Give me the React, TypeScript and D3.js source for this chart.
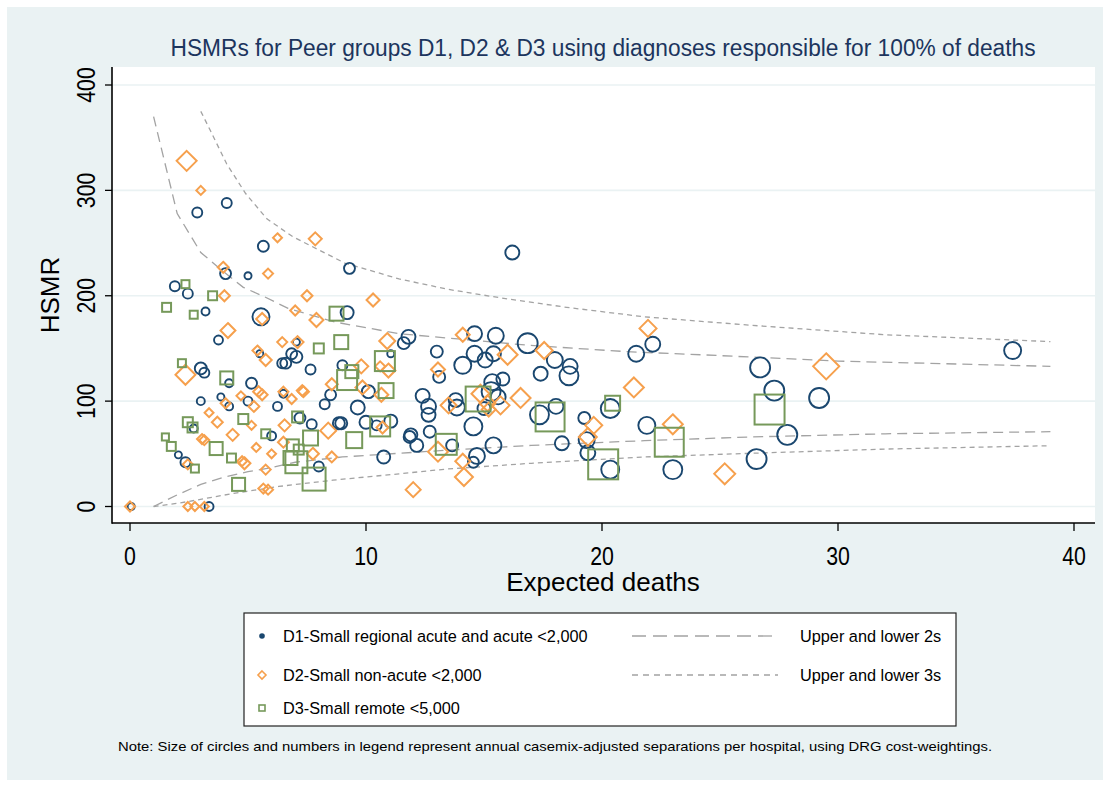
import React from "react";
import * as d3 from "d3";

// ---- Data: [expected deaths, HSMR, annual casemix-adjusted separations] ----
const d1Points: [number, number, number][] = [
  [4.1, 288, 500], [2.85, 279, 500], [5.65, 247, 600], [4.05, 221, 600], [5.0, 219, 250],
  [9.3, 226, 600], [1.9, 209, 500], [2.45, 202, 500], [3.2, 185, 320], [5.55, 180, 1450],
  [3.75, 158, 400], [5.5, 145, 250], [6.45, 136, 500], [3.0, 131, 720], [3.15, 127, 500],
  [4.2, 117, 320], [5.15, 117, 600], [3.85, 104, 250], [4.2, 95, 320], [3.0, 100, 320],
  [5.0, 100, 400], [6.25, 95, 400], [2.7, 74, 320], [6.0, 67, 400], [2.05, 49, 250],
  [2.35, 42, 500], [0.05, 0, 250], [3.35, 0, 400], [9.2, 184, 850], [7.05, 156, 250],
  [11.8, 161, 980], [11.6, 155, 720], [13.0, 147, 720], [6.85, 145, 600], [7.05, 142, 720],
  [6.6, 136, 600], [7.65, 130, 500], [9.0, 134, 500], [11.05, 145, 250], [8.5, 106, 600],
  [8.25, 97, 500], [10.1, 109, 850], [12.4, 105, 980], [12.65, 95, 1120], [12.65, 87, 980],
  [12.7, 71, 720], [6.5, 107, 320], [9.65, 94, 980], [8.85, 79, 720], [8.95, 79, 720],
  [7.2, 84, 600], [7.7, 78, 500], [10.0, 80, 850], [11.05, 81, 850], [10.45, 77, 500],
  [11.9, 68, 850], [11.85, 66, 720], [12.15, 58, 850], [8.0, 38, 500], [10.75, 47, 850],
  [13.1, 123, 720], [14.6, 164, 1120], [15.5, 162, 1280], [16.85, 155, 2000], [21.45, 145, 1280],
  [14.6, 145, 1280], [14.1, 134, 1450], [15.05, 139, 1120], [15.4, 145, 1120], [18.0, 139, 1280],
  [18.65, 133, 1120], [18.6, 124, 1800], [17.4, 126, 980], [15.8, 121, 850], [15.35, 118, 1280],
  [15.3, 109, 1800], [15.6, 104, 1120], [13.8, 101, 980], [13.85, 94, 1280], [15.0, 93, 850],
  [17.35, 87, 1800], [18.05, 95, 1120], [14.55, 76, 1620], [20.35, 93, 1800], [19.25, 84, 720],
  [19.35, 63, 1280], [19.4, 51, 1120], [20.35, 35, 1620], [18.3, 60, 980], [15.4, 58, 1280],
  [14.7, 48, 1280], [14.55, 42, 600], [13.65, 58, 720], [21.9, 77, 1450], [22.15, 154, 1120],
  [23.0, 35, 1800], [26.7, 132, 2000], [27.3, 110, 2000], [27.85, 68, 2000], [26.55, 45, 2000],
  [29.2, 103, 2000], [37.4, 148, 1450], [16.2, 241, 980],
];

const d2Points: [number, number, number][] = [
  [2.4, 328, 2000], [3.0, 300, 400], [6.25, 255, 400], [7.85, 254, 850], [3.95, 227, 600],
  [5.85, 221, 500], [4.0, 200, 600], [7.5, 200, 600], [10.3, 196, 850], [5.6, 178, 720],
  [4.15, 167, 1120], [5.4, 148, 500], [5.75, 139, 720], [6.45, 156, 500], [2.35, 125, 2000],
  [5.45, 109, 600], [5.6, 106, 600], [4.7, 105, 400], [4.05, 98, 500], [5.25, 95, 600],
  [3.35, 89, 400], [3.7, 80, 600], [4.35, 68, 720], [5.15, 77, 400], [3.15, 63, 500],
  [3.05, 64, 500], [5.35, 56, 400], [6.0, 50, 400], [2.45, 40, 500], [4.85, 41, 720],
  [4.75, 43, 500], [5.75, 35, 500], [5.65, 17, 500], [5.85, 16, 500], [0, 0, 500],
  [2.45, 0, 400], [2.75, 0, 400], [3.15, 0, 400], [7.0, 186, 500], [7.9, 177, 980],
  [7.1, 156, 720], [10.9, 157, 1280], [9.8, 133, 980], [10.95, 129, 980], [10.6, 133, 500],
  [8.55, 116, 720], [9.85, 113, 980], [10.65, 106, 980], [7.3, 110, 600], [7.35, 109, 600],
  [6.85, 102, 500], [6.5, 109, 500], [8.4, 72, 1280], [10.7, 75, 720], [6.5, 61, 600],
  [6.55, 77, 720], [7.75, 50, 720], [8.55, 47, 600], [12.0, 16, 1120], [13.05, 130, 980],
  [14.1, 163, 980], [17.55, 148, 1450], [16.0, 144, 2000], [14.85, 107, 1620], [15.15, 98, 1280],
  [15.7, 96, 1620], [15.2, 92, 980], [16.55, 103, 2000], [13.5, 96, 1280], [21.35, 113, 2000],
  [19.65, 77, 1450], [19.4, 66, 1620], [14.1, 43, 1120], [14.15, 28, 1620], [13.05, 52, 2000],
  [21.95, 169, 1450], [23.0, 78, 2000], [25.2, 31, 2200], [29.5, 133, 3400],
];

const d3Points: [number, number, number][] = [
  [2.35, 211, 320], [3.5, 200, 400], [1.55, 189, 400], [2.7, 182, 320], [2.2, 136, 320],
  [4.1, 122, 850], [2.45, 80, 500], [2.65, 75, 500], [4.8, 83, 500], [5.75, 69, 400],
  [1.5, 66, 250], [1.75, 57, 400], [3.65, 55, 850], [4.3, 46, 400], [2.75, 36, 320],
  [4.6, 21, 850], [8.75, 183, 980], [8.0, 150, 500], [8.95, 156, 980], [9.4, 128, 850],
  [9.2, 120, 2000], [10.8, 138, 2000], [10.85, 110, 1120], [7.1, 85, 600], [7.65, 65, 1120],
  [9.5, 63, 1280], [10.6, 76, 2000], [6.9, 58, 720], [6.8, 46, 980], [7.05, 42, 2420],
  [7.15, 54, 500], [7.8, 26, 2650], [14.75, 102, 3100], [17.8, 85, 4200], [20.45, 98, 1120],
  [20.05, 40, 4500], [13.4, 59, 2200], [22.85, 61, 4200], [27.1, 92, 4500],
];

// Control limits: [expected deaths, HSMR]
const upper2s: [number, number][] = [
  [1, 370], [2, 278], [3, 241], [3.9, 224], [4.8, 208], [5.7, 199], [6.7, 188], [8.7, 175],
  [11.4, 164], [13.4, 160], [16.9, 153], [21, 147], [24.2, 144], [30, 138], [39, 133],
];
const lower2s: [number, number][] = [
  [1, 0], [2, 11], [3, 21], [4, 28], [5, 33], [6, 37], [7, 42], [9, 47], [11.4, 50.5],
  [13.5, 53.5], [17, 58], [21.8, 62.5], [26.3, 66], [32, 69], [39, 71],
];
const upper3s: [number, number][] = [
  [3, 375], [3.4, 357], [4.1, 325], [4.9, 297], [5.8, 273], [6.9, 256], [9.1, 231],
  [11.4, 216], [13.5, 206], [15.7, 198], [18.5, 189], [21.8, 180], [26.3, 172], [32, 163], [39, 156.5],
];
const lower3s: [number, number][] = [
  [1, 0], [2, 3], [2.8, 6], [4.4, 12.5], [6.3, 19], [8.6, 25], [11.4, 31], [13.4, 35.5],
  [17, 41], [21.8, 47], [26.3, 50.5], [32, 54.5], [39, 57.7],
];

const xTicks = [0, 10, 20, 30, 40];
const yTicks = [0, 100, 200, 300, 400];

const titleText = "HSMRs for Peer groups D1, D2 & D3 using diagnoses responsible for 100% of deaths";
const xTitle = "Expected deaths";
const yTitle = "HSMR";
const legendSeries = [
  "D1-Small regional acute and acute <2,000",
  "D2-Small non-acute <2,000",
  "D3-Small remote <5,000",
];
const legendLines = ["Upper and lower 2s", "Upper and lower 3s"];
const noteText =
  "Note: Size of circles and numbers in legend represent annual casemix-adjusted separations per hospital, using DRG cost-weightings.";

const NAVY = "#1a476f";
const ORANGE = "#f6a04d";
const GREEN = "#76995a";
const BG = "#eaf2f3";
const LIMIT = "#a3a3a3";
const FONT = "'Liberation Sans', Arial, sans-serif";

export default function App() {
  const W = 1110;
  const H = 785;
  const plot = { left: 112, right: 1095, top: 67, bottom: 523 };

  const x = d3.scaleLinear().domain([0, 40]).range([130, 1074]);
  const y = d3.scaleLinear().domain([0, 400]).range([506.5, 85]);
  const size = d3.scaleSqrt().domain([0, 5000]).range([0, 15.8]);

  const line = d3
    .line<[number, number]>()
    .x((d) => x(d[0]))
    .y((d) => y(d[1]))
    .curve(d3.curveLinear);

  const diamond = (cx: number, cy: number, s: number) =>
    `M${cx},${cy - s}L${cx + s},${cy}L${cx},${cy + s}L${cx - s},${cy}Z`;

  const legendRows = [636, 675, 708];

  return (
    <svg
      width={W}
      height={H}
      style={{ position: "absolute", left: 0, top: 0, display: "block" }}
      fontFamily={FONT}
    >
      <rect x={0} y={0} width={W} height={H} fill="#ffffff" />
      <rect x={7} y={7} width={1096} height={773} fill={BG} />
      <rect
        x={plot.left}
        y={plot.top}
        width={plot.right - plot.left}
        height={plot.bottom - plot.top}
        fill="#ffffff"
      />

      {/* grid */}
      {yTicks.map((t) => (
        <line
          key={"g" + t}
          x1={plot.left}
          x2={plot.right}
          y1={y(t)}
          y2={y(t)}
          stroke={BG}
          strokeWidth={1.6}
        />
      ))}

      {/* title */}
      <text
        x={603}
        y={56}
        textAnchor="middle"
        fontSize={23.5}
        fill="#1c355e"
        textLength={865}
        lengthAdjust="spacingAndGlyphs"
      >
        {titleText}
      </text>

      {/* control limits */}
      <path d={line(upper2s) || ""} fill="none" stroke={LIMIT} strokeWidth={1.3} strokeDasharray="10,6" />
      <path d={line(lower2s) || ""} fill="none" stroke={LIMIT} strokeWidth={1.3} strokeDasharray="10,6" />
      <path d={line(upper3s) || ""} fill="none" stroke={LIMIT} strokeWidth={1.3} strokeDasharray="5,4" />
      <path d={line(lower3s) || ""} fill="none" stroke={LIMIT} strokeWidth={1.3} strokeDasharray="5,4" />

      {/* markers */}
      <g fill="none" stroke={NAVY} strokeWidth={1.9}>
        {d1Points.map((d, i) => (
          <circle key={"c" + i} cx={x(d[0])} cy={y(d[1])} r={size(d[2])} />
        ))}
      </g>
      <g fill="none" stroke={ORANGE} strokeWidth={2}>
        {d2Points.map((d, i) => (
          <path key={"d" + i} d={diamond(x(d[0]), y(d[1]), size(d[2]))} />
        ))}
      </g>
      <g fill="none" stroke={GREEN} strokeWidth={2}>
        {d3Points.map((d, i) => {
          const s = size(d[2]);
          return <rect key={"s" + i} x={x(d[0]) - s} y={y(d[1]) - s} width={2 * s} height={2 * s} />;
        })}
      </g>

      {/* axes */}
      <line x1={plot.left} x2={plot.left} y1={plot.top} y2={plot.bottom + 0.8} stroke="#000" strokeWidth={1.6} />
      <line x1={plot.left} x2={plot.right} y1={plot.bottom} y2={plot.bottom} stroke="#000" strokeWidth={1.6} />
      {yTicks.map((t) => (
        <g key={"yt" + t}>
          <line x1={plot.left - 7} x2={plot.left} y1={y(t)} y2={y(t)} stroke="#000" strokeWidth={1.3} />
          <text
            transform={`translate(94.5,${y(t)}) rotate(-90) scale(0.82,1)`}
            textAnchor="middle"
            fontSize={26}
            fill="#000"
          >
            {t}
          </text>
        </g>
      ))}
      {xTicks.map((t) => (
        <g key={"xt" + t}>
          <line x1={x(t)} x2={x(t)} y1={plot.bottom} y2={plot.bottom + 8} stroke="#000" strokeWidth={1.3} />
          <text
            transform={`translate(${x(t)},565) scale(0.82,1)`}
            textAnchor="middle"
            fontSize={26}
            fill="#000"
          >
            {t}
          </text>
        </g>
      ))}
      <text x={603} y={591} textAnchor="middle" fontSize={26} fill="#000">
        {xTitle}
      </text>
      <text transform="translate(58.5,295) rotate(-90)" textAnchor="middle" fontSize={26} fill="#000">
        {yTitle}
      </text>

      {/* legend */}
      <rect x={244} y={613} width={712} height={113} fill="#ffffff" stroke="#222" strokeWidth={1.2} />
      <circle cx={262} cy={legendRows[0]} r={2.8} fill={NAVY} />
      <path d={diamond(262, legendRows[1], 4)} fill="none" stroke={ORANGE} strokeWidth={1.6} />
      <rect x={259} y={legendRows[2] - 3} width={6} height={6} fill="none" stroke={GREEN} strokeWidth={1.6} />
      {legendSeries.map((s, i) => (
        <text key={"ls" + i} x={283} y={legendRows[i] + 5.8} fontSize={16.3} fill="#000">
          {s}
        </text>
      ))}
      <line x1={632} x2={778} y1={legendRows[0]} y2={legendRows[0]} stroke={LIMIT} strokeWidth={1.3} strokeDasharray="14,7" />
      <line x1={632} x2={778} y1={legendRows[1]} y2={legendRows[1]} stroke={LIMIT} strokeWidth={1.3} strokeDasharray="6,5" />
      {legendLines.map((s, i) => (
        <text key={"ll" + i} x={800} y={legendRows[i] + 5.8} fontSize={16.3} fill="#000">
          {s}
        </text>
      ))}

      {/* note */}
      <text
        x={555}
        y={751}
        textAnchor="middle"
        fontSize={13.5}
        fill="#000"
        textLength={874}
        lengthAdjust="spacingAndGlyphs"
      >
        {noteText}
      </text>
    </svg>
  );
}
